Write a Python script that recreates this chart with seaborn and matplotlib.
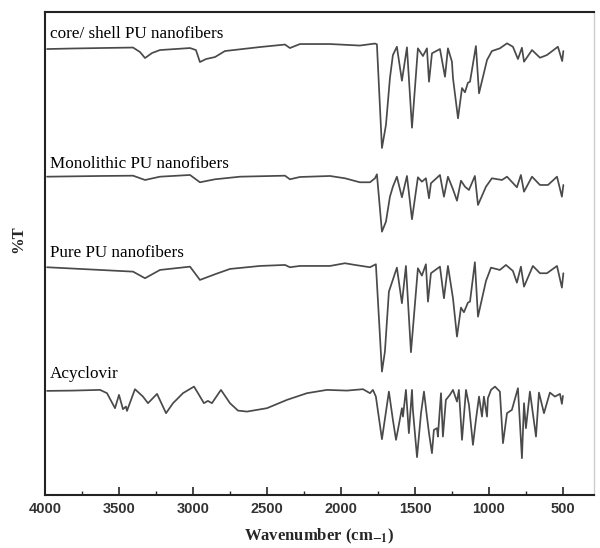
import numpy as np
import pandas as pd
import seaborn as sns
import matplotlib.pyplot as plt

# FTIR spectra (wavenumber in cm-1, transmittance in arbitrary offset units)
core_wn = [3986, 3831, 3628, 3405, 3358, 3324, 3277, 3223, 3020, 2980, 2953, 2912, 2851, 2784,
           2547, 2378, 2345, 2311, 2277, 2074, 1872, 1770, 1757, 1723, 1696, 1669, 1649, 1622,
           1588, 1554, 1520, 1480, 1446, 1419, 1405, 1385, 1331, 1297, 1277, 1250, 1243, 1209,
           1182, 1162, 1142, 1128, 1088, 1067, 1013, 980, 926, 878, 838, 804, 777, 763, 709,
           655, 608, 534, 505, 497]
core_t = [446, 446.5, 447, 447.5, 443, 437, 442, 445, 447, 445, 433, 436, 438, 444,
          448, 450.5, 447, 449, 451, 451, 449.5, 451.5, 450.7, 347, 370, 417, 440, 448.3,
          414.3, 447.7, 367.3, 446.7, 439, 446.7, 413.3, 441.7, 446, 418.3, 446.7, 433.3, 417, 376.7,
          407, 402.7, 412.3, 413.3, 449, 401.7, 435, 444, 446.7, 451.7, 448.3, 436, 447.3, 433.3, 445,
          437.3, 440, 448.3, 434, 444]

mono_wn = [3986, 3628, 3405, 3324, 3223, 3020, 2953, 2851, 2682, 2378, 2345, 2277, 2074, 1973,
           1872, 1804, 1770, 1757, 1723, 1696, 1669, 1649, 1622, 1588, 1554, 1520, 1480, 1453,
           1426, 1405, 1392, 1331, 1304, 1277, 1243, 1216, 1189, 1162, 1135, 1095, 1074, 1020,
           980, 912, 878, 811, 784, 763, 709, 655, 601, 540, 507, 497]
mono_t = [318.3, 319, 319.3, 315, 318.3, 320, 312.7, 315.7, 318.3, 319.3, 315.7, 318, 319, 316.7,
          312.7, 312.7, 316.7, 320.7, 263.3, 273.3, 298.3, 308.3, 318.3, 297.7, 319, 275.7, 317.7, 313.3,
          316.7, 296.7, 311.7, 320, 298.3, 318.3, 305.7, 294.3, 314.3, 308.3, 305, 319, 290, 308.3,
          316.7, 315, 318.3, 307.7, 320, 303.3, 318.3, 310, 310, 318.3, 298.3, 310]

pure_wn = [3986, 3628, 3405, 3324, 3223, 3020, 2953, 2851, 2750, 2547, 2378, 2345, 2277, 2074,
           1973, 1905, 1804, 1764, 1723, 1703, 1676, 1622, 1588, 1561, 1527, 1480, 1453, 1426,
           1412, 1392, 1331, 1304, 1277, 1243, 1216, 1189, 1169, 1142, 1128, 1095, 1074, 1020,
           986, 926, 885, 838, 811, 784, 763, 703, 655, 608, 540, 507, 497]
pure_t = [227.7, 225, 223.3, 216.7, 225, 228.3, 215, 220.7, 226, 229, 230, 227.7, 229, 229,
          231.7, 230, 227.7, 230.7, 123.3, 143.3, 203.3, 227.3, 191.7, 229, 142.7, 226.7, 219.3, 230.7,
          193.3, 221.7, 228.3, 196.7, 229, 196.7, 158.3, 187.3, 182.7, 192.3, 193.3, 232.7, 178.3, 214,
          227.3, 225, 230, 224, 212.3, 228.3, 208.3, 229, 221.7, 221.7, 229, 207.3, 221.7]

acv_wn = [3986, 3811, 3628, 3581, 3527, 3500, 3473, 3453, 3446, 3392, 3338, 3304, 3243, 3182,
          3135, 3108, 3068, 2993, 2966, 2926, 2899, 2872, 2811, 2750, 2696, 2635, 2500, 2365,
          2230, 2095, 1959, 1851, 1804, 1784, 1764, 1723, 1676, 1649, 1628, 1615, 1588, 1581,
          1561, 1541, 1520, 1514, 1486, 1459, 1439, 1419, 1405, 1385, 1372, 1351, 1345, 1324,
          1311, 1291, 1264, 1243, 1216, 1203, 1182, 1155, 1135, 1108, 1088, 1067, 1047, 1034,
          1013, 1007, 986, 959, 926, 905, 878, 845, 804, 777, 763, 750, 723, 682, 662, 628,
          588, 554, 520, 507, 500]
acv_t = [104, 104.3, 105, 101.7, 86.7, 100, 85.7, 88.3, 84, 105.7, 98.3, 91.7, 101, 81.7,
         91.7, 95.7, 101.7, 108.3, 101.7, 91.7, 94, 91.7, 105, 91.7, 84.3, 83.3, 86.7, 95,
         101.7, 105, 104.3, 105.7, 101.7, 105, 98.3, 55.7, 103.3, 75, 55, 65, 86.7, 78.3,
         105, 61.7, 105, 85, 37.7, 81.7, 103.3, 78.3, 61.7, 41.7, 65, 66.7, 58.3, 101.7,
         58.3, 95, 100, 105, 93.3, 105, 55, 105, 90, 50, 75, 98.3, 78.3, 98.3,
         78.3, 96.7, 105, 108.3, 103.3, 51.7, 81.7, 85, 106.7, 36.7, 91.7, 66.7, 103.3, 58.3, 102.3, 81.7,
         102.3, 98.3, 101, 91, 99]

names = ["core/ shell PU nanofibers", "Monolithic PU nanofibers", "Pure PU nanofibers", "Acyclovir"]
label_y = [461, 331, 242, 121]

frames = []
for name, wn, t in zip(names, [core_wn, mono_wn, pure_wn, acv_wn], [core_t, mono_t, pure_t, acv_t]):
    frames.append(pd.DataFrame({"wavenumber": wn, "T": t, "sample": name}))
df = pd.concat(frames, ignore_index=True)

sns.set_theme(style="ticks")
plt.rcParams['font.family'] = ['Liberation Serif', 'DejaVu Serif']
plt.rcParams['mathtext.fontset'] = 'stix'

fig = plt.figure(figsize=(6, 5.48), dpi=100)
ax = fig.add_axes([0.075, 0.097, 0.915, 0.881])

sns.lineplot(data=df, x="wavenumber", y="T", hue="sample", units="sample", estimator=None,
             palette=["#4a4a4a"] * 4, linewidth=1.25, legend=False, ax=ax)

for name, y in zip(names, label_y):
    ax.text(3965, y, name, fontsize=12.3, color="black", va="center", ha="left")

ax.set_xlim(4000, 290)
ax.set_ylim(0, 483)
ax.set_yticks([])
ax.set_xticks(np.arange(4000, 499, -500))
ax.set_xticks(np.arange(3750, 499, -500), minor=True)
ax.tick_params(axis="x", which="major", direction="in", length=6, width=1.2, pad=5,
               labelsize=10.5, labelcolor="#333333")
ax.tick_params(axis="x", which="minor", direction="in", length=3, width=1.0)
for lab in ax.get_xticklabels():
    lab.set_family(['Liberation Sans', 'DejaVu Sans'])
    lab.set_fontweight('bold')

ax.set_xlabel(r"Wavenumber (cm$_{\mathbf{-1}}$)", fontsize=12, fontweight="bold", labelpad=8)
ax.set_ylabel("%T", fontsize=12, fontweight="bold")
ax.yaxis.set_label_coords(-0.035, 0.53)

for side in ["left", "top", "bottom"]:
    ax.spines[side].set_color("#222222")
    ax.spines[side].set_linewidth(1.5)
ax.spines["right"].set_color("#cccccc")
ax.spines["right"].set_linewidth(1.0)

fig.savefig("out.png", dpi=100)
